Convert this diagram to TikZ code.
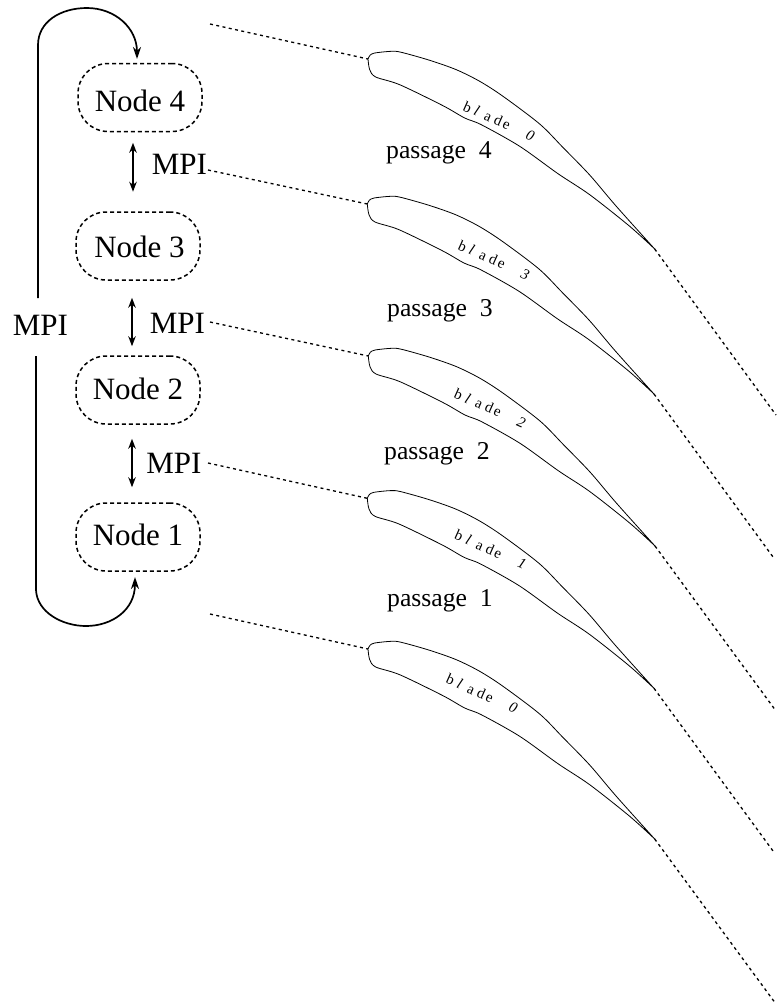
\documentclass[tikz,border=0pt]{standalone}
\usepackage{fontspec}
\setmainfont{Liberation Serif}
\usetikzlibrary{arrows.meta}
\tikzset{
  cpu/.style={draw,line width=1.5pt,dash pattern=on 4pt off 3pt,rounded corners=30pt,minimum width=124pt,minimum height=68pt,inner sep=0pt,text depth=0pt,font=\fontsize{31}{31}\selectfont},
  mpilabel/.style={anchor=base,inner sep=0pt,font=\fontsize{31}{31}\selectfont},
  passagelabel/.style={anchor=base,inner sep=0pt,font=\fontsize{25.7}{26}\selectfont},
  bladelabel/.style={inner sep=0pt,rotate=-24,font=\fontsize{15}{15}\selectfont},
  ring/.style={line width=1.7pt,-{Stealth[length=12pt,width=8pt]}},
  dbl/.style={line width=1.7pt,{Stealth[length=10pt,width=7.5pt]}-{Stealth[length=10pt,width=7.5pt]}},
  stream/.style={line width=1.3pt,dash pattern=on 3pt off 3.4pt},
  profile/.style={line width=0.8pt,line join=round}
}
\newcommand{\bladeshape}[1]{%
  \draw[profile,shift={(#1)}] plot[smooth,tension=0.5] coordinates {(0,0)(2,-3.7)(6.7,-6)(23.3,-7.7)(33.3,-6.7)(61.7,1.3)(88.3,10.7)(111.7,22.3)(135,37.3)(171.7,65)(195,88.5)(221.7,116)(248.3,147.3)(286.7,190)}
  -- plot[smooth,tension=0.5] coordinates {(286.7,190)(261.7,167.3)(221.7,135.7)(190,114.7)(151.7,87.3)(113.3,65.7)(96.7,59)(75,46.7)(31.7,25.7)(7.7,18)(1.7,10.7)(0,0)};}
\newcommand{\bladetext}[1]{b\kern4.4pt\textit{l}\kern7pt a\kern4pt d\kern2pt e\kern19pt\textit{#1}}
\begin{document}
\begin{tikzpicture}[x=1pt,y=-1pt]
\useasboundingbox (0,0) rectangle (777,1007);
% processor nodes
\node[cpu,text height=28pt] (n4) at (140,97.5) {Node 4};
\node[cpu,text height=23.4pt] (n3) at (138,246) {\kern3pt Node 3};
\node[cpu,text height=18pt] (n2) at (138,390) {Node 2};
\node[cpu,text height=16.6pt] (n1) at (138,537) {Node 1};
% MPI labels
\node[mpilabel] (m43) at (179.5,174) {MPI};
\node[mpilabel] (m32) at (177.5,333) {MPI};
\node[mpilabel] (m21) at (174,473) {MPI};
\node[mpilabel] (mring) at (40.5,335) {MPI};
% links between nodes
\draw[dbl,shorten <=10.5pt,shorten >=19.5pt] ([xshift=-7pt]n4.south) -- ([xshift=-5pt]n3.north);
\draw[dbl,shorten <=17pt,shorten >=9pt] ([xshift=-6pt]n3.south) -- ([xshift=-6pt]n2.north);
\draw[dbl,shorten <=14pt,shorten >=15pt] ([xshift=-6pt]n2.south) -- ([xshift=-6pt]n1.north);
% ring links
\coordinate (rtop) at (38,298);
\coordinate (rbot) at (36,356);
\draw[ring] (rtop) -- (38,45) .. controls (38,22) and (60,8) .. (87,8) .. controls (115,8) and (137,28) .. (137,59);
\draw[ring] (rbot) -- (36,590) .. controls (37,612) and (62,626) .. (86,626) .. controls (112,626) and (135,610) .. (135,577);
% blades
\coordinate (le0) at (368,59);    \coordinate (te0) at (654.7,249);
\coordinate (le3) at (367.3,204); \coordinate (te3) at (654,394);
\coordinate (le2) at (368.3,356); \coordinate (te2) at (655,546);
\coordinate (le1) at (367.3,498.3); \coordinate (te1) at (654,688.3);
\coordinate (leb) at (368,649);   \coordinate (teb) at (654.7,839);
\bladeshape{le0}\bladeshape{le3}\bladeshape{le2}\bladeshape{le1}\bladeshape{leb}
\node[bladelabel] (b0) at (499,121) {\bladetext{0}};
\node[bladelabel] (b3) at (494,260) {\bladetext{3}};
\node[bladelabel] (b2) at (490,408) {\bladetext{2}};
\node[bladelabel] (b1) at (490.7,549.7) {\bladetext{1}};
\node[bladelabel] (bb) at (482,693.7) {\bladetext{0}};
% passages
\node[passagelabel] (p4) at (439,158) {passage\ \ 4};
\node[passagelabel] (p3) at (440,316) {passage\ \ 3};
\node[passagelabel] (p2) at (437,459) {passage\ \ 2};
\node[passagelabel] (p1) at (440,606) {passage\ \ 1};
% stream lines
\coordinate (a0) at (210,24);
\coordinate (a3) at (208,170);
\coordinate (a2) at (210,322);
\coordinate (a1) at (208,463);
\coordinate (ab) at (210,614);
\coordinate (o0) at (776,415);
\coordinate (o3) at (774.5,559);
\coordinate (o2) at (776,711);
\coordinate (o1) at (774.5,853);
\coordinate (ob) at (774.5,1002);
\draw[stream] (a0) -- (le0);
\draw[stream] (a3) -- (le3);
\draw[stream] (a2) -- (le2);
\draw[stream] (a1) -- (le1);
\draw[stream] (ab) -- (leb);
\draw[stream] (te0) -- (o0);
\draw[stream] (te3) -- (o3);
\draw[stream] (te2) -- (o2);
\draw[stream] (te1) -- (o1);
\draw[stream] (teb) -- (ob);
\end{tikzpicture}
\end{document}
